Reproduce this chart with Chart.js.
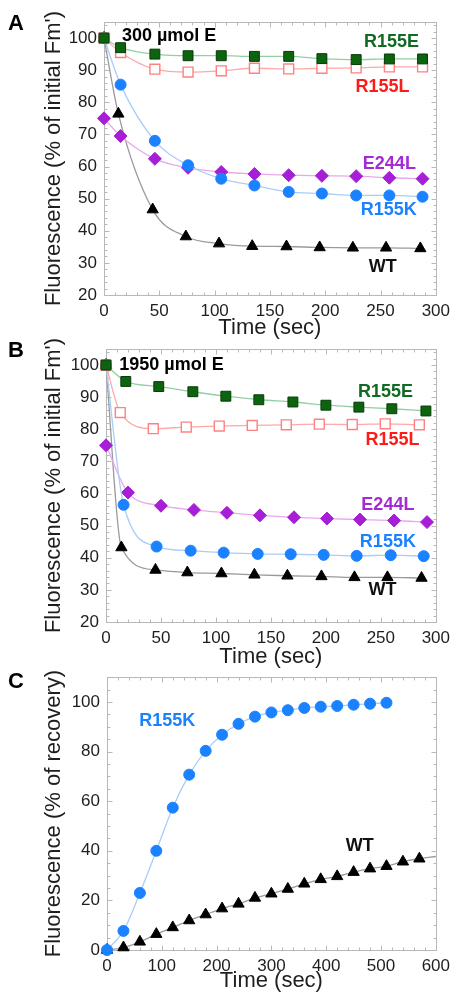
<!DOCTYPE html>
<html>
<head>
<meta charset="utf-8">
<script src="https://cdn.jsdelivr.net/npm/chart.js@4.4.1/dist/chart.umd.min.js"></script>
<style>
html, body { margin: 0; padding: 0; background: #fff; }
body { width: 456px; height: 994px; position: relative; overflow: hidden; }
canvas { position: absolute; left: 0; }
</style>
</head>
<body>
<canvas id="chartA" width="456" height="345" style="top:0px"></canvas>
<canvas id="chartB" width="456" height="340" style="top:330px"></canvas>
<canvas id="chartC" width="456" height="334" style="top:660px"></canvas>
<script>
/* =========================
DATA
========================= */
// Panel A - 300 umol E
const timeA   = [0, 15, 46, 76, 106, 136, 167, 197, 228, 258, 288];
const timeAwt = [0, 13, 44, 74, 104, 134, 165, 195, 225, 255, 286];
const r155eA = [100, 97, 95, 94.5, 94.5, 94.3, 94.3, 93.6, 93.3, 93.5, 93.5];
const r155lA = [100, 95.5, 90.3, 89.4, 89.8, 90.6, 90.4, 90.6, 90.7, 91, 91];
const r155kA = [100, 85.5, 68, 60.4, 56.2, 54.1, 52.1, 51.6, 51, 51, 50.6];
const e244lA = [75, 69.5, 62.4, 59.6, 58.3, 57.7, 57.3, 57.1, 57, 56.5, 56.2];
const wtA    = [100, 76.4, 46.6, 38.2, 36, 35.2, 35.1, 34.8, 34.7, 34.7, 34.5];

// Panel B - 1950 umol E
const timeBe  = [0, 18, 48, 79, 109, 139, 170, 200, 230, 260, 291];
const timeBl  = [0, 13, 43, 73, 103, 133, 164, 194, 224, 254, 285];
const timeBk  = [0, 16, 46, 77, 107, 138, 168, 198, 228, 259, 289];
const timeBm  = [0, 20, 50, 80, 110, 140, 171, 201, 231, 262, 292];
const timeBwt = [0, 14, 45, 74, 105, 135, 165, 196, 226, 256, 287];
const r155eB = [100, 94.9, 93.3, 91.7, 90.3, 89.2, 88.5, 87.5, 86.9, 86.4, 85.7];
const r155lB = [100, 85.2, 80.2, 80.7, 81, 81.2, 81.4, 81.6, 81.5, 81.7, 81.4];
const r155kB = [100, 56.5, 43.5, 42.2, 41.6, 41.2, 41.1, 40.9, 40.6, 40.8, 40.5];
const e244lB = [75, 60.3, 56.2, 54.9, 54, 53.2, 52.6, 52.2, 51.9, 51.6, 51.1];
const wtB    = [100, 43.2, 36.2, 35.4, 35.1, 34.7, 34.4, 34.2, 33.9, 33.9, 33.7];

// Panel C - recovery
const timeCk  = [0, 30, 60, 90, 120, 150, 180, 210, 240, 270, 300, 330, 360, 390, 420, 450, 480, 510];
const r155kC  = [0, 7.7, 23, 40, 57.4, 70.7, 80.3, 86.8, 91.2, 94.1, 95.8, 96.7, 97.6, 98.1, 98.4, 98.9, 99.3, 99.7];
const timeCwt = [0, 30, 60, 90, 120, 150, 180, 210, 240, 270, 300, 330, 360, 390, 420, 450, 480, 510, 540, 570, 600];
const wtC     = [0, 1, 3.3, 6.4, 9.1, 11.9, 14.3, 16.7, 18.6, 21, 22.7, 24.6, 26.7, 28.5, 29.7, 31.4, 32.8, 33.8, 35.6, 36.8, 37.7];

const xTicksAB = [0, 50, 100, 150, 200, 250, 300];
const yTicksAB = [20, 30, 40, 50, 60, 70, 80, 90, 100];
const xTicksC  = [0, 100, 200, 300, 400, 500, 600];
const yTicksC  = [0, 20, 40, 60, 80, 100];

/* =========================
STYLE
========================= */
const FONT = '"Liberation Sans", Arial, Helvetica, sans-serif';
const TXT = '#1e1e1e';

const styles = {
    r155e: { line: '#93cfa2', fill: '#0c640f', edge: '#053d07', shape: 'rect', r: 7 },
    r155l: { line: '#ffa8a8', fill: '#ffffff', edge: '#ff8080', shape: 'rect', r: 7 },
    r155k: { line: '#a9cdfb', fill: '#1b82ff', edge: '#1b82ff', shape: 'circle', r: 5.5 },
    e244l: { line: '#e9a8ee', fill: '#a61fd6', edge: '#a61fd6', shape: 'rectRot', r: 6.5 },
    wt:    { line: '#9a9a9a', fill: '#000000', edge: '#000000', shape: 'triangle', r: 6.5 }
};

function series(key, xs, ys, hideLast) {
    const s = styles[key];
    return {
        label: key,
        data: xs.map((x, i) => ({ x: x, y: ys[i] })),
        borderColor: s.line,
        borderWidth: 1.3,
        pointStyle: s.shape,
        pointRadius: hideLast ? ctx => (ctx.dataIndex === xs.length - 1 ? 0 : s.r) : s.r,
        pointBackgroundColor: s.fill,
        pointBorderColor: s.edge,
        pointBorderWidth: key === 'r155l' ? 1.4 : 1,
        cubicInterpolationMode: 'monotone',
        clip: false
    };
}

// frame + inward minor/major tick marks
function frameTicks(p) {
    return {
        id: 'frameTicks',
        beforeDatasetsDraw(chart) {
            const { ctx, chartArea: a, scales: { x, y } } = chart;
            const L = Math.round(a.left) + 0.5, R = Math.round(a.right) + 0.5;
            const T = Math.round(a.top) + 0.5, B = Math.round(a.bottom) + 0.5;
            ctx.save();
            ctx.strokeStyle = '#b8b8b8';
            ctx.lineWidth = 1;
            ctx.strokeRect(L, T, R - L, B - T);
            ctx.beginPath();
            for (let v = x.min; v <= x.max + 1e-6; v += p.xMinor) {
                const px = Math.round(x.getPixelForValue(v)) + 0.5;
                const len = Math.abs(v % p.xMajor) < 1e-6 ? 5 : 3;
                ctx.moveTo(px, B); ctx.lineTo(px, B - len);
                ctx.moveTo(px, T); ctx.lineTo(px, T + len);
            }
            for (let v = y.min; v <= y.max + 1e-6; v += p.yMinor) {
                const py = Math.round(y.getPixelForValue(v)) + 0.5;
                const len = Math.abs(v % p.yMajor) < 1e-6 ? 5 : 3;
                ctx.moveTo(L, py); ctx.lineTo(L + len, py);
                ctx.moveTo(R, py); ctx.lineTo(R - len, py);
            }
            ctx.stroke();
            ctx.restore();
        }
    };
}

// in-plot labels (data coords) + panel letter
function tags(p) {
    return {
        id: 'tags',
        afterDatasetsDraw(chart) {
            const { ctx, scales: { x, y } } = chart;
            ctx.save();
            ctx.textBaseline = 'middle';
            ctx.font = 'bold 18px ' + FONT;
            p.tags.forEach(t => {
                ctx.fillStyle = t.color;
                ctx.textAlign = t.align || 'center';
                ctx.fillText(t.text, x.getPixelForValue(t.x), y.getPixelForValue(t.y));
            });
            ctx.font = 'bold 22px ' + FONT;
            ctx.fillStyle = '#000';
            ctx.textAlign = 'left';
            ctx.textBaseline = 'alphabetic';
            ctx.fillText(p.letter, 8, p.letterY);
            ctx.restore();
        }
    };
}

function panel(id, p) {
    const canvas = document.getElementById(id);
    const H = canvas.height;
    return new Chart(canvas, {
        type: 'line',
        data: { datasets: p.datasets },
        options: {
            responsive: false,
            animation: false,
            layout: { padding: { top: p.area.top, right: 456 - p.area.right, left: 0, bottom: 0 } },
            plugins: { legend: { display: false }, tooltip: { enabled: false } },
            scales: {
                x: {
                    type: 'linear', min: p.xMin, max: p.xMax,
                    grid: { display: false, drawTicks: false }, border: { display: false },
                    afterBuildTicks: s => { s.ticks = p.xTicks.map(v => ({ value: v })); },
                    ticks: { padding: 6, color: TXT, font: { family: FONT, size: 17 }, maxRotation: 0, autoSkip: false },
                    title: { display: true, text: 'Time (sec)', color: TXT, font: { family: FONT, size: 22 }, padding: { top: 0, bottom: p.xTitlePad } },
                    afterFit: s => { s.height = H - p.area.bottom; }
                },
                y: {
                    type: 'linear', min: p.yMin, max: p.yMax,
                    grid: { display: false, drawTicks: false }, border: { display: false },
                    afterBuildTicks: s => { s.ticks = p.yTicks.map(v => ({ value: v })); },
                    ticks: { padding: 7, color: TXT, font: { family: FONT, size: 17 }, autoSkip: false },
                    title: { display: true, text: p.yTitle, color: TXT, font: { family: FONT, size: 22 }, padding: { top: 41, bottom: 0 } },
                    afterFit: s => { s.width = p.area.left; }
                }
            }
        },
        plugins: [frameTicks(p), tags(p)]
    });
}

/* =========================
PANELS
========================= */
panel('chartA', {
    area: { left: 104, right: 438, top: 22, bottom: 295 },
    xMin: 0, xMax: 300, yMin: 20, yMax: 105,
    xTicks: xTicksAB, yTicks: yTicksAB,
    xMajor: 50, xMinor: 10, yMajor: 10, yMinor: 2,
    xTitlePad: 4,
    yTitle: "Fluorescence (% of initial Fm')",
    letter: 'A', letterY: 30,
    datasets: [
        series('r155e', timeA, r155eA),
        series('r155l', timeA, r155lA),
        series('r155k', timeA, r155kA),
        series('e244l', timeA, e244lA),
        series('wt', timeAwt, wtA)
    ],
    tags: [
        { text: '300 µmol E', x: 16.2, y: 100.6, color: '#000', align: 'left' },
        { text: 'R155E', x: 260, y: 98.8, color: '#0f6a22' },
        { text: 'R155L', x: 251.7, y: 84.9, color: '#ff1a1a' },
        { text: 'E244L', x: 258, y: 60.9, color: '#a52ad6' },
        { text: 'R155K', x: 257.5, y: 46.3, color: '#1b82ff' },
        { text: 'WT', x: 252, y: 28.8, color: '#111' }
    ]
});

panel('chartB', {
    area: { left: 106, right: 441, top: 19, bottom: 292 },
    xMin: 0, xMax: 300, yMin: 20, yMax: 105,
    xTicks: xTicksAB, yTicks: yTicksAB,
    xMajor: 50, xMinor: 10, yMajor: 10, yMinor: 2,
    xTitlePad: 0,
    yTitle: "Fluorescence (% of initial Fm')",
    letter: 'B', letterY: 27,
    datasets: [
        series('r155e', timeBe, r155eB),
        series('r155l', timeBl, r155lB),
        series('r155k', timeBk, r155kB),
        series('e244l', timeBm, e244lB),
        series('wt', timeBwt, wtB)
    ],
    tags: [
        { text: '1950 µmol E', x: 12.1, y: 100, color: '#000', align: 'left' },
        { text: 'R155E', x: 254.3, y: 91.5, color: '#0f6a22' },
        { text: 'R155L', x: 260.6, y: 76.6, color: '#ff1a1a' },
        { text: 'E244L', x: 256.4, y: 56.5, color: '#a52ad6' },
        { text: 'R155K', x: 256.4, y: 45, color: '#1b82ff' },
        { text: 'WT', x: 251.5, y: 29.8, color: '#111' }
    ]
});

panel('chartC', {
    area: { left: 107, right: 441, top: 16, bottom: 290 },
    xMin: 0, xMax: 600, yMin: 0, yMax: 110,
    xTicks: xTicksC, yTicks: yTicksC,
    xMajor: 100, xMinor: 20, yMajor: 20, yMinor: 5,
    xTitlePad: 0,
    yTitle: 'Fluorescence (% of recovery)',
    letter: 'C', letterY: 28,
    datasets: [
        series('r155k', timeCk, r155kC),
        series('wt', timeCwt, wtC, true)
    ],
    tags: [
        { text: 'R155K', x: 110, y: 92.3, color: '#1b82ff' },
        { text: 'WT', x: 461, y: 42.1, color: '#111' }
    ]
});
</script>
</body>
</html>
